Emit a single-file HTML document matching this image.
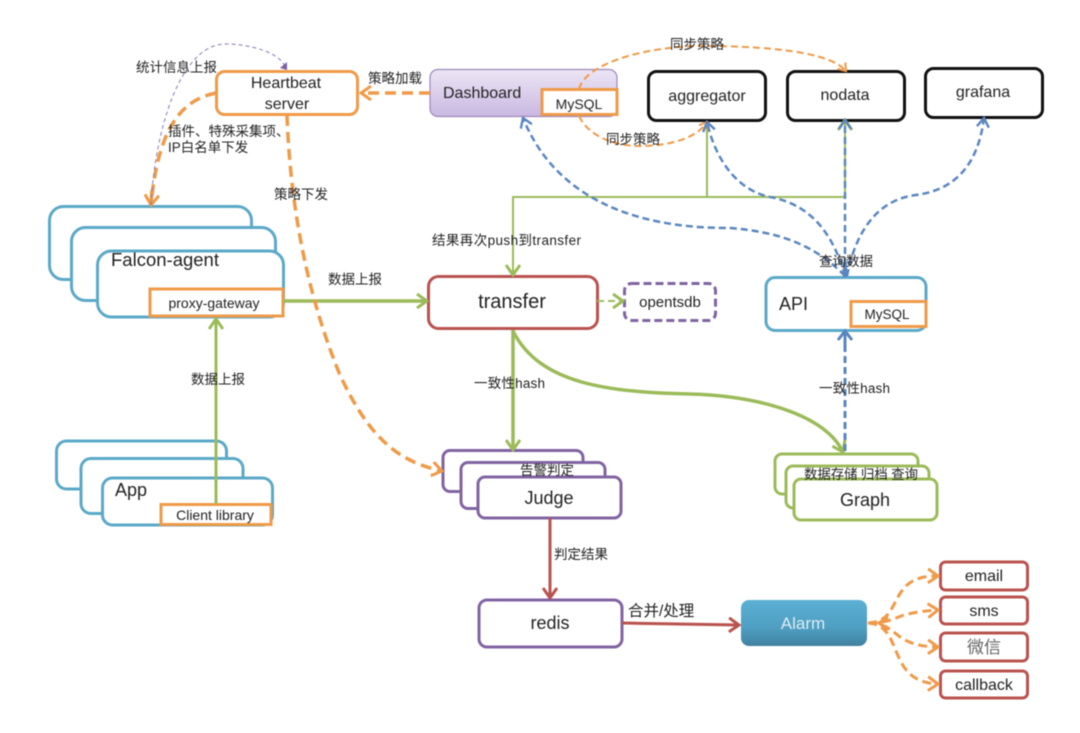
<!DOCTYPE html>
<html><head><meta charset="utf-8">
<style>
html,body{margin:0;padding:0;background:#fff;width:1080px;height:733px;overflow:hidden}
svg{display:block;filter:blur(.6px)}
text{font-family:"Liberation Sans","Noto Sans CJK SC",sans-serif;fill:#222}
.b{fill:#fff;stroke-width:3}
.lb{font-size:13.500px}
.n{font-size:17px;text-anchor:middle}
</style></head><body>
<svg width="1080" height="733" viewBox="0 0 1080 733" xmlns="http://www.w3.org/2000/svg">
<defs>
<linearGradient id="dash" x1="0" y1="0" x2="0" y2="1"><stop offset="0" stop-color="#ece6f5"/><stop offset="1" stop-color="#c9b8e0"/></linearGradient>
<linearGradient id="al" x1="0" y1="0" x2="0" y2="1"><stop offset="0" stop-color="#5bb0d4"/><stop offset=".6" stop-color="#4f9fc2"/><stop offset="1" stop-color="#41819f"/></linearGradient>
<marker id="mo" markerUnits="userSpaceOnUse" viewBox="0 0 16 16" refX="14" refY="8" markerWidth="16" markerHeight="16" orient="auto"><path d="M4 1 L14 8 L4 15" fill="none" stroke="#ef9a48" stroke-width="3"/></marker>
<marker id="mos" markerUnits="userSpaceOnUse" viewBox="0 0 12 12" refX="10" refY="6" markerWidth="12" markerHeight="12" orient="auto"><path d="M3 1 L10 6 L3 11" fill="none" stroke="#ef9a48" stroke-width="2"/></marker>
<marker id="mg" markerUnits="userSpaceOnUse" viewBox="0 0 16 16" refX="14" refY="8" markerWidth="16" markerHeight="16" orient="auto"><path d="M4 1 L14 8 L4 15" fill="none" stroke="#9bbb59" stroke-width="3"/></marker>
<marker id="mr" markerUnits="userSpaceOnUse" viewBox="0 0 16 16" refX="14" refY="8" markerWidth="16" markerHeight="16" orient="auto"><path d="M4 1 L14 8 L4 15" fill="none" stroke="#b9534f" stroke-width="3"/></marker>
<marker id="mb" markerUnits="userSpaceOnUse" viewBox="0 0 14 14" refX="12" refY="7" markerWidth="14" markerHeight="14" orient="auto"><path d="M3 1 L12 7 L3 13" fill="none" stroke="#5a86c0" stroke-width="2.400"/></marker>
</defs>

<!-- Nodes -->
<rect class="b" x="216.500" y="71.500" width="141" height="43" rx="8" stroke="#ef9a48"/>
<rect x="430" y="69.500" width="187" height="47" rx="8" fill="url(#dash)" stroke="#9c88bd" stroke-width="1.200"/>
<rect class="b" x="542" y="89.500" width="75" height="25" stroke="#ef9a48"/>
<rect class="b" x="648.500" y="71.500" width="117" height="49" rx="8" stroke="#111"/>
<rect class="b" x="787.500" y="71.500" width="117" height="49" rx="8" stroke="#111"/>
<rect class="b" x="925.500" y="68.500" width="117" height="49" rx="8" stroke="#111"/>

<rect class="b" x="49.500" y="206.500" width="202" height="73" rx="14" stroke="#5ba9c8"/>
<rect class="b" x="71.500" y="227.500" width="204" height="73" rx="14" stroke="#5ba9c8"/>
<rect class="b" x="97.500" y="251" width="186" height="66" rx="14" stroke="#5ba9c8"/>
<rect class="b" x="150" y="289" width="133" height="27" stroke="#ef9a48"/>

<rect class="b" x="56.500" y="441" width="170" height="48" rx="10" stroke="#5ba9c8"/>
<rect class="b" x="81" y="458.500" width="162" height="55" rx="10" stroke="#5ba9c8"/>
<rect class="b" x="102.500" y="478" width="170" height="47" rx="10" stroke="#5ba9c8"/>
<rect class="b" x="161" y="504.500" width="110" height="20" stroke="#ef9a48"/>

<rect class="b" x="428.500" y="276.500" width="169" height="52" rx="10" stroke="#b9534f"/>
<rect class="b" x="624.500" y="283.500" width="91" height="37" rx="7" stroke="#8064a2" stroke-dasharray="8 4"/>
<rect class="b" x="766" y="277.500" width="160" height="53" rx="9" stroke="#5ba9c8"/>
<rect class="b" x="851" y="301.500" width="75" height="25" stroke="#ef9a48"/>

<rect class="b" x="443" y="450.500" width="140" height="41" rx="7" stroke="#8064a2"/>
<rect class="b" x="461" y="462.500" width="144" height="46" rx="7" stroke="#8064a2"/>
<rect class="b" x="478" y="477" width="143" height="41" rx="7" stroke="#8064a2"/>

<rect class="b" x="775" y="454" width="143" height="40" rx="7" stroke="#9bbb59"/>
<rect class="b" x="786" y="466" width="143" height="42" rx="7" stroke="#9bbb59"/>
<rect class="b" x="794" y="479" width="143" height="41" rx="7" stroke="#9bbb59"/>

<rect class="b" x="479" y="600" width="143" height="47" rx="8" stroke="#8064a2"/>
<rect x="741" y="600" width="126" height="46" rx="8" fill="url(#al)"/>
<rect class="b" x="940.500" y="562" width="87" height="28" rx="5" stroke="#b9534f"/>
<rect class="b" x="940.500" y="597" width="87" height="27" rx="5" stroke="#b9534f"/>
<rect class="b" x="940.500" y="633" width="87" height="28" rx="5" stroke="#b9534f"/>
<rect class="b" x="940.500" y="671" width="87" height="27" rx="5" stroke="#b9534f"/>

<!-- Green connectors -->
<g fill="none" stroke="#9bbb59">
<path d="M283 301 H427" stroke-width="3.500" marker-end="url(#mg)"/>
<path d="M216 504 V319" stroke-width="3" marker-end="url(#mg)"/>
<path d="M513 330 V450" stroke-width="3.500" marker-end="url(#mg)"/>
<path d="M513 331 C540 385 610 392 690 394 C760 396 825 415 843 452" stroke-width="3.500" marker-end="url(#mg)"/>
<path d="M513 275 V197 H845 M707 197 V122 M845 197 V121" stroke-width="2"/>
<path d="M513 205 V275" stroke-width="2" marker-end="url(#mg)"/>
<path d="M845 140 V120" stroke-width="2" marker-end="url(#mg)"/>
<path d="M597 301 H623" stroke-width="2" stroke-dasharray="7 4" marker-end="url(#mg)"/>
</g>

<!-- Orange connectors -->
<g fill="none" stroke="#ef9a48">
<path d="M430 93 H361" stroke-width="3.500" stroke-dasharray="11 6" marker-end="url(#mo)"/>
<path d="M216 93 C180 100 158 130 151 205" stroke-width="3.500" stroke-dasharray="11 6" marker-end="url(#mo)"/>
<path d="M152 190 L151 205" stroke-width="3.500"/>
<path d="M287 115 C290 200 305 290 340 375 C370 440 400 462 442 471" stroke-width="3.500" stroke-dasharray="11 6" marker-end="url(#mo)"/>
<path d="M579 89 C585 65 640 47 700 46 C770 46 830 52 846 71" stroke-width="2" stroke-dasharray="7 4" marker-end="url(#mos)"/>
<path d="M579 116 C588 135 612 146 640 146 C670 146 697 138 707 122" stroke-width="2" stroke-dasharray="7 4" marker-end="url(#mos)"/>
<path d="M868 623 C905 622 885 575 938 576" stroke-width="3" stroke-dasharray="9 5" marker-end="url(#mo)"/>
<path d="M868 623 C900 623 890 613 938 610" stroke-width="3" stroke-dasharray="9 5" marker-end="url(#mo)"/>
<path d="M868 623 C900 623 890 646 938 647" stroke-width="3" stroke-dasharray="9 5" marker-end="url(#mo)"/>
<path d="M868 623 C905 625 885 682 938 684" stroke-width="3" stroke-dasharray="9 5" marker-end="url(#mo)"/>
<path d="M888 617 L879 623 L888 630" stroke-width="3"/>
</g>

<!-- Thin purple -->
<path d="M151 205 C155 130 180 45 225 44 C250 44 278 52 285 66" fill="none" stroke="#8b78b5" stroke-width="1" stroke-dasharray="4 3"/>
<path d="M280 68 L287 62 L287 70 Z" fill="#7a5fa8"/>

<!-- Blue connectors -->
<g fill="none" stroke="#5a86c0" stroke-width="2.500" stroke-dasharray="7 4">
<path d="M845 276 C815 245 780 232 730 228 C680 228 565 222 523 118" marker-end="url(#mb)"/>
<path d="M845 276 C835 240 815 205 770 197 C745 192 718 170 707 122" marker-end="url(#mb)"/>
<path d="M845 276 V120" marker-end="url(#mb)"/>
<path d="M847 276 C855 235 875 200 916 195 C955 190 978 165 984 118" marker-end="url(#mb)"/>
<path d="M845 345 V452" stroke-width="3"/>
</g>
<path d="M845 262 V277" stroke="#5a86c0" stroke-width="4"/>
<path d="M838 340 L845 331 L852 340 M845 331 V350" fill="none" stroke="#5a86c0" stroke-width="3"/>

<!-- Red connectors -->
<g fill="none" stroke="#b9534f" stroke-width="3">
<path d="M550 518 V598" marker-end="url(#mr)"/>
<path d="M622 623 L739 625" marker-end="url(#mr)"/>
</g>

<!-- Node labels -->
<text class="n" x="286" y="88" style="font-size:16px">Heartbeat</text>
<text class="n" x="287" y="109" style="font-size:16px">server</text>
<text x="443" y="98" style="font-size:16px">Dashboard</text>
<text class="n" x="579" y="109" style="font-size:14px">MySQL</text>
<text class="n" x="707" y="101" style="font-size:16px">aggregator</text>
<text class="n" x="845" y="100" style="font-size:16px">nodata</text>
<text class="n" x="983" y="97" style="font-size:16px">grafana</text>
<text x="111" y="266" style="font-size:18.500px">Falcon-agent</text>
<text class="n" x="214" y="308" style="font-size:14px">proxy-gateway</text>
<text x="115" y="496" style="font-size:18px">App</text>
<text class="n" x="215" y="520" style="font-size:14px">Client library</text>
<text class="n" x="512" y="308" style="font-size:20px">transfer</text>
<text class="n" x="670" y="307" style="font-size:15px">opentsdb</text>
<text x="779" y="310" style="font-size:18px">API</text>
<text class="n" x="887" y="319" style="font-size:13.500px">MySQL</text>
<text class="n" x="549" y="504" style="font-size:18px">Judge</text>
<text class="n" x="865" y="506" style="font-size:18px">Graph</text>
<text class="n" x="550" y="629" style="font-size:18px">redis</text>
<text class="n" x="803" y="629" style="font-size:17px;fill:#dcecf3">Alarm</text>
<text class="n" x="984" y="581" style="font-size:16px">email</text>
<text class="n" x="984" y="616" style="font-size:16px">sms</text>
<text class="n" x="984" y="653" style="font-size:17px;fill:#666">微信</text>
<text class="n" x="984" y="690" style="font-size:16px">callback</text>

<!-- Edge labels -->
<text class="lb" x="136" y="72">统计信息上报</text>
<text class="lb" x="368" y="83">策略加载</text>
<text class="lb" x="168" y="136">插件、特殊采集项、</text>
<text class="lb" x="168" y="152">IP白名单下发</text>
<text class="lb" x="274" y="199">策略下发</text>
<text class="lb" x="670" y="49">同步策略</text>
<text class="lb" x="606" y="144">同步策略</text>
<text class="lb" x="432" y="245" textLength="149">结果再次push到transfer</text>
<text class="lb" x="819" y="266">查询数据</text>
<text class="lb" x="328" y="284">数据上报</text>
<text class="lb" x="191" y="384">数据上报</text>
<text class="lb" x="474" y="388" textLength="71">一致性hash</text>
<text class="lb" x="819" y="393" textLength="71">一致性hash</text>
<text class="lb" x="520" y="475">告警判定</text>
<text class="lb" x="804" y="479" textLength="114">数据存储 归档 查询</text>
<text class="lb" x="554" y="559">判定结果</text>
<text x="628" y="616" style="font-size:15.500px">合并/处理</text>
</svg>
</body></html>
